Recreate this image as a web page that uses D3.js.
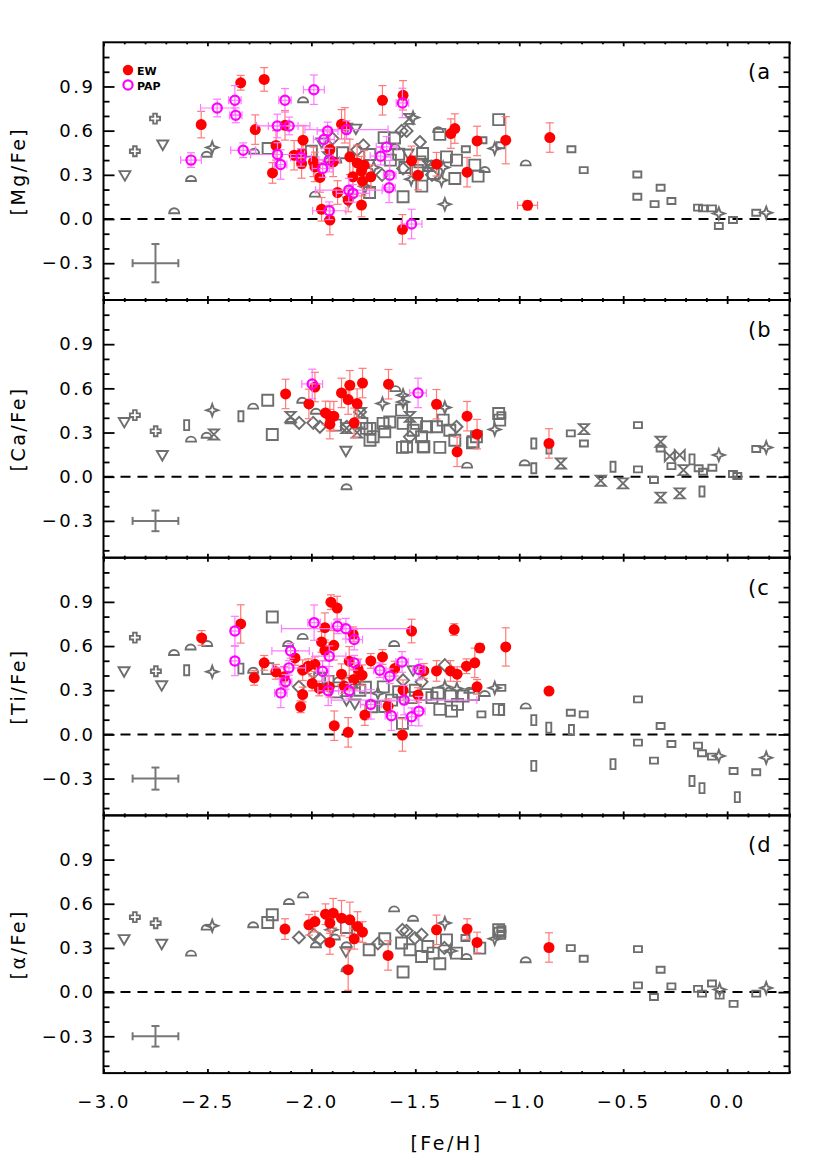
<!DOCTYPE html>
<html><head><meta charset="utf-8">
<script src="https://cdn.jsdelivr.net/npm/d3@7"></script>
<style>
body{margin:0;background:#fff}
svg{display:block}
text{font-family:"DejaVu Sans",sans-serif;fill:#000}
</style></head>
<body><svg id="c" width="830" height="1163"></svg>
<script>
// ---------- DATA ----------
// EW / PAP entries: [Fe/H, [X/Fe], xerr, yerr]; literature entries: [Fe/H, [X/Fe], symbol]
const xTicks = [-3.0, -2.5, -2.0, -1.5, -1.0, -0.5, 0.0];
const yTicks = [-0.3, 0.0, 0.3, 0.6, 0.9];
const panelLabels = ["(a", "(b", "(c", "(d"];
const yTitles = ["[Mg/Fe]", "[Ca/Fe]", "[Ti/Fe]", "[\u03b1/Fe]"];
const sampleErrX = [0.11, 0.11, 0.11, 0.11];
const sampleErrY = [0.13, 0.07, 0.075, 0.07];

const mgEW = [
[-2.34,0.925,0,0.05],[-2.227,0.948,0,0.08],[-2.53,0.641,0,0.09],[-2.27,0.607,0,0.1],
[-1.658,0.806,0,0.1],[-2.17,0.50,0,0.1],[-2.127,0.636,0,0.1],[-2.187,0.313,0,0.07],
[-2.083,0.433,0,0.1],[-2.047,0.445,0,0.1],[-2.04,0.535,0,0.1],[-2.047,0.377,0,0.1],
[-1.99,0.388,0,0.1],[-1.983,0.354,0,0.1],[-1.959,0.282,0,0.1],[-1.911,0.472,0,0.12],
[-1.855,0.643,0,0.1],[-1.839,0.636,0,0.12],[-1.815,0.422,0,0.12],[-1.895,0.388,0,0.1],
[-1.874,0.18,0,0.08],[-1.951,0.066,0,0.08],[-1.911,-0.007,0,0.1],[-1.78,0.381,0,0.12],
[-1.746,0.366,0,0.1],[-1.80,0.287,0,0.12],[-1.759,0.325,0,0.1],[-1.754,0.257,0,0.1],
[-1.714,0.287,0,0.08],[-1.759,0.095,0,0.08],[-1.823,0.129,0,0.08],[-1.559,0.84,0,0.1],
[-1.518,0.395,0,0.1],[-1.487,0.298,0,0.1],[-1.562,-0.07,0,0.1],[-1.398,0.372,0,0.08],
[-1.329,0.58,0,0.1],[-1.31,0.614,0,0.1],[-1.251,0.318,0,0.1],[-1.203,0.53,0,0.1],
[-1.065,0.535,0,0.16],[-0.853,0.553,0,0.1],[-0.96,0.093,0.048,0.03]
];
const mgPAP = [
[-2.579,0.40,0.05,0.05],[-2.453,0.754,0.08,0.06],[-2.368,0.806,0.03,0.1],[-2.364,0.704,0.03,0.05],
[-2.328,0.467,0.06,0.05],[-2.127,0.806,0.03,0.08],[-2.164,0.632,0.1,0.08],[-2.107,0.632,0.1,0.06],
[-1.988,0.878,0.05,0.1],[-2.163,0.438,0.13,0.08],[-2.148,0.37,0.03,0.1],[-2.05,0.418,0.05,0.06],
[-1.922,0.598,0.05,0.06],[-1.94,0.54,0.05,0.06],[-1.914,0.40,0.05,0.08],[-1.946,0.343,0.05,0.06],
[-1.831,0.607,0.2,0.06],[-1.82,0.196,0.16,0.08],[-1.80,0.174,0.08,0.06],[-1.914,0.056,0.08,0.06],
[-1.667,0.427,0.05,0.06],[-1.638,0.49,0.05,0.07],[-1.623,0.298,0.03,0.1],[-1.626,0.212,0.03,0.1],
[-1.562,0.788,0.03,0.1],[-1.518,-0.034,0.05,0.1]
];
const mgLit = [
[-2.849,0.46,"plus"],[-2.752,0.682,"plus"],[-2.897,0.298,"tri"],[-2.715,0.506,"tri"],
[-2.66,0.056,"half"],[-2.579,0.275,"half"],[-2.504,0.44,"half"],[-2.477,0.485,"star"],
[-2.275,0.46,"half"],[-2.208,0.479,"sq"],[-2.04,0.81,"half"],[-1.983,0.169,"half"],
[-1.898,0.546,"dia"],[-1.786,0.614,"tri"],[-1.83,0.62,"tri"],[-1.65,0.553,"sq"],
[-1.719,0.438,"sq"],[-1.75,0.5,"dia"],[-1.78,0.47,"dia"],[-1.85,0.45,"sq"],
[-1.88,0.40,"half"],[-1.70,0.35,"star"],[-1.74,0.22,"star"],[-1.82,0.12,"tri"],
[-1.60,0.55,"sq"],[-1.511,0.689,"star"],[-1.53,0.68,"hg"],[-1.566,0.598,"dia"],
[-1.542,0.598,"dia"],[-1.465,0.445,"sq"],[-1.478,0.388,"sq"],[-1.478,0.523,"dia"],
[-1.469,0.223,"sq"],[-1.559,0.151,"sq"],[-1.358,0.10,"star"],[-1.39,0.607,"half"],
[-1.382,0.575,"sq"],[-1.414,0.309,"sq"],[-1.302,0.40,"sq"],[-1.31,0.275,"sq"],
[-1.214,0.366,"sq"],[-1.198,0.291,"sq"],[-1.166,0.336,"half"],[-1.374,0.264,"star"],
[-1.366,0.35,"star"],[-1.257,0.474,"rs"],[-1.177,0.535,"rs"],[-1.118,0.479,"star"],
[-1.09,0.501,"rs"],[-1.099,0.675,"sq"],[-0.969,0.381,"half"],[-0.749,0.474,"rs"],
[-0.69,0.332,"rs"],[-0.432,0.302,"rs"],[-0.432,0.151,"rs"],[-0.32,0.212,"rs"],
[-0.349,0.101,"rs"],[-0.268,0.122,"rs"],[-0.14,0.077,"rs"],[-0.116,0.072,"rs"],
[-0.073,0.072,"rs"],[-0.04,0.038,"star"],[-0.04,-0.047,"rs"],[0.028,-0.007,"rs"],
[0.14,0.043,"rs"],[0.188,0.043,"star"],
[-1.598,0.49,"half"],[-1.559,0.343,"dia"],[-1.535,0.445,"tri"],[-1.422,0.381,"half"],
[-1.35,0.422,"sq"],[-1.62,0.40,"sq"],[-1.58,0.44,"sq"],[-1.55,0.35,"sq"],
[-1.49,0.33,"sq"],[-1.44,0.36,"hg"],[-1.42,0.30,"dia"],[-1.52,0.27,"star"],
[-1.66,0.30,"dia"],[-1.72,0.18,"sq"],[-1.92,0.42,"hg"],[-2.0,0.46,"sq"],[-1.95,0.52,"tri"]
];

const caEW = [
[-2.124,0.562,0,0.1],[-2.012,0.494,0,0.1],[-1.983,0.609,0,0.1],[-1.932,0.433,0,0.08],
[-1.911,0.411,0,0.1],[-1.892,0.411,0,0.1],[-1.911,0.357,0,0.1],[-1.855,0.569,0,0.1],
[-1.815,0.621,0,0.1],[-1.823,0.524,0,0.1],[-1.78,0.497,0,0.1],[-1.794,0.366,0,0.1],
[-1.754,0.636,0,0.1],[-1.629,0.628,0,0.1],[-1.398,0.492,0,0.1],[-1.251,0.411,0,0.1],
[-1.203,0.289,0,0.1],[-1.299,0.169,0,0.1],[-0.857,0.226,0,0.1]
];
const caPAP = [
[-1.996,0.63,0.05,0.1],[-1.487,0.569,0.04,0.1]
];
const caLit = [
[-2.90,0.372,"tri"],[-2.849,0.418,"plus"],[-2.749,0.309,"plus"],[-2.717,0.147,"tri"],
[-2.60,0.35,"tr"],[-2.579,0.255,"half"],[-2.469,0.287,"hg"],[-2.504,0.282,"half"],
[-2.477,0.452,"star"],[-2.339,0.411,"tr"],[-2.28,0.479,"half"],[-2.21,0.519,"sq"],
[-2.188,0.287,"sq"],[-2.044,0.519,"half"],[-1.978,0.445,"half"],[-2.10,0.406,"hg"],
[-2.10,0.38,"half"],[-2.059,0.366,"dia"],[-1.991,0.366,"dia"],[-1.959,0.339,"dia"],
[-1.884,0.35,"sq"],[-1.834,0.176,"tri"],[-1.831,-0.068,"half"],[-1.762,0.433,"hg"],
[-1.596,0.598,"half"],[-1.658,0.497,"star"],[-1.559,0.553,"star"],[-1.559,0.508,"star"],
[-1.566,0.452,"sq"],[-1.562,0.199,"sq"],[-1.459,0.203,"sq"],[-1.382,0.199,"sq"],
[-1.358,0.47,"star"],[-1.251,0.079,"half"],[-1.225,0.23,"sq"],[-1.099,0.429,"sq"],
[-1.094,0.384,"sq"],[-1.118,0.321,"star"],
[-1.757,0.362,"sq"],[-1.718,0.328,"sq"],[-1.655,0.362,"sq"],[-1.703,0.271,"sq"],
[-1.623,0.372,"sq"],[-1.647,0.305,"sq"],[-1.559,0.362,"sq"],[-1.526,0.406,"hg"],
[-1.51,0.316,"sq"],[-1.494,0.362,"sq"],[-1.47,0.271,"sq"],[-1.446,0.339,"sq"],
[-1.542,0.203,"sq"],[-1.462,0.203,"sq"],[-1.526,0.271,"dia"],[-1.398,0.339,"sq"],
[-1.366,0.384,"sq"],[-1.334,0.316,"sq"],[-1.31,0.248,"sq"],[-1.302,0.339,"dia"],
[-1.222,0.237,"sq"],[-1.206,0.271,"sq"],[-1.766,0.44,"dia"],[-1.83,0.339,"dia"],
[-1.831,0.33,"hg"],[-1.735,0.328,"sq"],[-1.718,0.248,"sq"],[-1.78,0.30,"hg"],
[-1.086,0.418,"rs"],[-0.93,0.226,"tr"],[-0.974,0.095,"half"],[-0.93,0.057,"tr"],
[-0.857,0.192,"tr"],[-0.80,0.09,"hg"],[-0.752,0.294,"rs"],[-0.689,0.323,"hg"],
[-0.689,0.226,"rs"],[-0.608,-0.027,"hg"],[-0.549,0.068,"tr"],[-0.501,-0.045,"hg"],
[-0.429,0.35,"rs"],[-0.429,0.05,"rs"],[-0.352,-0.022,"rs"],[-0.32,0.237,"hg"],
[-0.32,0.192,"rs"],[-0.276,0.14,"bt"],[-0.228,0.147,"bt"],[-0.32,-0.142,"hg"],
[-0.228,-0.113,"hg"],[-0.268,0.072,"rs"],[-0.21,0.045,"hg"],[-0.169,0.118,"tr"],
[-0.137,0.057,"rs"],[-0.116,0.034,"rs"],[-0.121,-0.10,"tr"],[-0.071,0.061,"rs"],
[-0.04,0.147,"star"],[0.028,0.018,"rs"],[0.049,0.005,"rs"],[0.14,0.188,"rs"],
[0.188,0.199,"star"]
];

const tiEW = [
[-2.528,0.655,0,0.05],[-2.34,0.75,0,0.13],[-2.275,0.384,0,0.05],[-2.227,0.486,0,0.05],
[-2.171,0.425,0,0.05],[-2.131,0.391,0,0.07],[-2.079,0.519,0,0.05],[-2.042,0.436,0,0.07],
[-2.015,0.463,0,0.05],[-1.983,0.477,0,0.05],[-1.996,0.346,0,0.05],[-1.962,0.312,0,0.05],
[-2.042,0.271,0,0.05],[-2.052,0.188,0,0.04],[-1.951,0.628,0,0.07],[-1.935,0.725,0,0.1],
[-1.935,0.571,0,0.07],[-1.906,0.898,0,0.05],[-1.876,0.858,0,0.08],[-1.892,0.605,0,0.1],
[-1.855,0.409,0,0.07],[-1.842,0.328,0,0.05],[-1.914,0.323,0,0.07],[-1.89,0.059,0,0.1],
[-1.823,0.014,0,0.1],[-1.818,0.497,0,0.1],[-1.799,0.68,0,0.05],[-1.796,0.373,0,0.07],
[-1.775,0.441,0,0.07],[-1.756,0.402,0,0.07],[-1.714,0.499,0,0.05],[-1.658,0.526,0,0.05],
[-1.743,0.131,0,0.07],[-1.631,0.192,0,0.05],[-1.599,0.447,0,0.05],[-1.559,0.30,0,0.07],
[-1.562,-0.004,0,0.11],[-1.518,0.702,0,0.08],[-1.487,0.267,0,0.05],[-1.459,0.431,0,0.05],
[-1.398,0.431,0,0.07],[-1.331,0.431,0,0.07],[-1.299,0.409,0,0.05],[-1.313,0.712,0,0.04],
[-1.254,0.463,0,0.05],[-1.214,0.486,0,0.1],[-1.19,0.587,0,0.03],[-1.203,0.323,0,0.05],
[-1.065,0.594,0,0.13],[-0.857,0.294,0,0]
];
const tiPAP = [
[-2.368,0.702,0.02,0.1],[-2.368,0.499,0.02,0.1],[-2.147,0.282,0.03,0.1],[-2.124,0.357,0.03,0.05],
[-2.108,0.452,0.08,0.05],[-2.10,0.567,0.09,0.05],[-1.987,0.759,0.03,0.12],[-1.874,0.734,0.03,0.05],
[-1.834,0.718,0.31,0.07],[-1.794,0.644,0.04,0.07],[-1.914,0.531,0.08,0.07],[-1.946,0.429,0.03,0.07],
[-1.919,0.296,0.05,0.1],[-1.818,0.296,0.08,0.05],[-1.794,0.486,0.03,0.05],[-1.714,0.204,0.05,0.1],
[-1.671,0.436,0.03,0.05],[-1.623,0.395,0.03,0.05],[-1.615,0.127,0.03,0.1],[-1.564,0.492,0.03,0.07],
[-1.554,0.233,0.35,0.1],[-1.518,0.12,0.03,0.06],[-1.483,0.158,0.03,0.1],[-1.483,0.441,0.03,0.07]
];
const tiLit = [
[-2.901,0.429,"tri"],[-2.849,0.657,"plus"],[-2.748,0.429,"plus"],[-2.72,0.334,"tri"],
[-2.661,0.556,"half"],[-2.60,0.436,"tr"],[-2.581,0.594,"half"],[-2.501,0.617,"half"],
[-2.477,0.425,"star"],[-2.339,0.447,"tr"],[-2.28,0.436,"half"],[-2.21,0.447,"sq"],
[-2.188,0.797,"sq"],[-2.112,0.617,"half"],[-2.042,0.666,"half"],[-1.602,0.617,"half"],
[-2.06,0.323,"dia"],[-1.562,0.075,"sq"],[-1.382,0.17,"sq"],[-1.099,0.17,"sq"],
[-1.297,0.204,"sq"],[-1.326,0.158,"sq"],[-1.182,0.136,"rs"],[-1.118,0.316,"star"],
[-1.086,0.316,"rs"],[-1.358,0.47,"dia"],[-1.166,0.278,"half"],
[-1.99,0.42,"dia"],[-1.96,0.38,"sq"],[-1.92,0.36,"sq"],[-1.879,0.289,"sq"],
[-1.831,0.233,"tri"],[-1.791,0.21,"tri"],[-1.767,0.30,"sq"],[-1.74,0.32,"sq"],
[-1.71,0.188,"sq"],[-1.654,0.323,"sq"],[-1.647,0.19,"sq"],[-1.614,0.233,"sq"],
[-1.511,0.436,"tri"],[-1.559,0.368,"dia"],[-1.47,0.357,"dia"],[-1.50,0.30,"sq"],
[-1.45,0.27,"sq"],[-1.42,0.25,"sq"],[-1.39,0.28,"sq"],[-1.358,0.323,"star"],
[-1.33,0.26,"sq"],[-1.27,0.26,"sq"],[-1.22,0.27,"sq"],[-1.24,0.30,"half"],
[-1.30,0.31,"star"],[-1.58,0.29,"sq"],[-1.52,0.25,"sq"],[-1.68,0.28,"star"],
[-1.80,0.35,"hg"],[-1.87,0.37,"half"],[-1.77,0.39,"dia"],
[-1.086,0.165,"tr"],[-0.969,0.194,"half"],[-0.93,0.097,"tr"],[-0.858,0.046,"tr"],
[-0.93,-0.214,"tr"],[-0.752,0.147,"rs"],[-0.69,0.136,"rs"],[-0.749,0.03,"tr"],
[-0.549,-0.202,"tr"],[-0.429,0.238,"rs"],[-0.429,-0.056,"rs"],[-0.32,0.057,"rs"],
[-0.352,-0.178,"rs"],[-0.268,-0.065,"rs"],[-0.14,-0.076,"rs"],[-0.121,-0.128,"rs"],
[-0.073,-0.151,"rs"],[-0.04,-0.146,"star"],[-0.169,-0.316,"tr"],[-0.121,-0.365,"tr"],
[0.031,-0.248,"rs"],[0.049,-0.426,"tr"],[0.14,-0.257,"rs"],[0.188,-0.158,"star"]
];

const alEW = [
[-2.127,0.428,0,0.07],[-2.012,0.457,0,0.07],[-1.983,0.479,0,0.07],[-1.932,0.529,0,0.07],
[-1.895,0.536,0,0.1],[-1.911,0.469,0,0.07],[-1.911,0.337,0,0.08],[-1.855,0.502,0,0.12],
[-1.815,0.491,0,0.12],[-1.778,0.446,0,0.1],[-1.754,0.408,0,0.07],[-1.794,0.362,0,0.07],
[-1.823,0.152,0,0.14],[-1.631,0.249,0,0.1],[-1.398,0.423,0,0.1],[-1.251,0.428,0,0.07],
[-1.203,0.337,0,0.07],[-0.857,0.303,0,0.1]
];
const alPAP = [];
const alLit = [
[-2.901,0.36,"tri"],[-2.849,0.509,"plus"],[-2.749,0.468,"plus"],[-2.72,0.328,"tri"],
[-2.579,0.265,"half"],[-2.477,0.45,"star"],[-2.504,0.441,"half"],[-2.28,0.457,"half"],
[-2.21,0.473,"sq"],[-2.188,0.525,"sq"],[-2.108,0.615,"half"],[-2.04,0.66,"half"],
[-2.06,0.371,"dia"],[-1.988,0.389,"dia"],[-1.959,0.36,"dia"],[-1.978,0.322,"half"],
[-1.903,0.423,"star"],[-1.887,0.374,"half"],[-1.831,0.439,"sq"],[-1.831,0.322,"half"],
[-1.834,0.276,"tri"],[-1.831,0.159,"half"],[-1.722,0.288,"sq"],[-1.647,0.362,"sq"],
[-1.68,0.33,"dia"],[-1.602,0.565,"half"],[-1.559,0.137,"sq"],[-1.562,0.423,"dia"],
[-1.542,0.416,"dia"],[-1.511,0.502,"half"],[-1.358,0.469,"star"],[-1.382,0.193,"sq"],
[-1.47,0.242,"sq"],[-1.302,0.265,"sq"],[-1.254,0.242,"half"],[-1.259,0.367,"rs"],
[-1.19,0.299,"sq"],[-1.118,0.362,"star"],[-1.099,0.423,"sq"],[-1.094,0.40,"sq"],
[-1.526,0.288,"sq"],[-1.502,0.367,"dia"],[-1.47,0.39,"dia"],[-1.414,0.265,"sq"],
[-1.35,0.355,"sq"],[-1.36,0.30,"dia"],[-1.566,0.333,"sq"],[-1.44,0.31,"sq"],[-1.33,0.28,"star"],
[-1.086,0.428,"rs"],[-1.086,0.396,"rs"],[-0.969,0.22,"half"],[-0.752,0.299,"rs"],
[-0.69,0.227,"rs"],[-0.429,0.292,"rs"],[-0.32,0.152,"rs"],[-0.429,0.046,"rs"],
[-0.352,-0.033,"rs"],[-0.268,0.039,"rs"],[-0.14,0.022,"rs"],[-0.121,-0.01,"rs"],
[-0.073,0.058,"rs"],[-0.036,0.017,"star"],[-0.036,-0.024,"rs"],[0.031,-0.08,"rs"],
[0.14,-0.01,"rs"],[0.188,0.028,"star"]
];

const ewSets = [mgEW, caEW, tiEW, alEW];
const papSets = [mgPAP, caPAP, tiPAP, alPAP];
const litSets = [mgLit, caLit, tiLit, alLit];

// ---------- DRAWING ----------
const GRAY = "#6e6e6e", RED = "#ff0000", RED_ERR = "#ff7a7a", MAG = "#ff00ff", MAG_ERR = "#ff7aff";
const SYM = {
  plus: "M-1.8,-5H1.8V-1.8H5V1.8H1.8V5H-1.8V1.8H-5V-1.8H-1.8Z",
  tri: "M-5.5,-4H5.5L0,5.5Z",
  half: "M-5,2.5A5,5 0 0 1 5,2.5Z",
  star: "M0,-6L1.6,-1.6L6,0L1.6,1.6L0,6L-1.6,1.6L-6,0L-1.6,-1.6Z",
  sq: "M-5.5,-5.5H5.5V5.5H-5.5Z",
  rs: "M-4,-3H4V3H-4Z",
  tr: "M-2.5,-5H2.5V5H-2.5Z",
  dia: "M0,-6L6,0L0,6L-6,0Z",
  hg: "M-5,-5H5L-5,5H5Z",
  bt: "M-5,-5L5,5V-5L-5,5Z"
};

const svg = d3.select("#c");
const x = d3.scaleLinear().domain([-3.0, 0.3]).range([103.5, 789.5]);
const TOP0 = 42.3, PH = 257.7;
const xMinor = d3.range(-29, 4).map(v => v / 10).filter(v => Math.abs(v * 2 - Math.round(v * 2)) > 1e-6);
const yMinor = d3.range(-5, 12).map(v => v / 10).filter(v => Math.abs(v * 10 / 3 - Math.round(v * 10 / 3)) > 1e-6);

function errBars(g, data, xs, ys, color, cap) {
  const gg = g.append("g").attr("stroke", color).attr("stroke-width", 1.2).attr("fill", "none");
  data.forEach(d => {
    const cx = xs(d[0]), cy = ys(d[1]);
    if (d[3] > 0) {
      const y1 = ys(d[1] - d[3]), y2 = ys(d[1] + d[3]);
      gg.append("line").attr("x1", cx).attr("x2", cx).attr("y1", y1).attr("y2", y2);
      gg.append("line").attr("x1", cx - cap).attr("x2", cx + cap).attr("y1", y1).attr("y2", y1);
      gg.append("line").attr("x1", cx - cap).attr("x2", cx + cap).attr("y1", y2).attr("y2", y2);
    }
    if (d[2] > 0) {
      const x1 = xs(d[0] - d[2]), x2 = xs(d[0] + d[2]);
      gg.append("line").attr("x1", x1).attr("x2", x2).attr("y1", cy).attr("y2", cy);
      gg.append("line").attr("x1", x1).attr("x2", x1).attr("y1", cy - cap).attr("y2", cy + cap);
      gg.append("line").attr("x1", x2).attr("x2", x2).attr("y1", cy - cap).attr("y2", cy + cap);
    }
  });
}

function styleAxis(sel) {
  sel.select(".domain").remove();
  sel.selectAll(".tick line").attr("stroke", "#000").attr("stroke-width", 1.8);
  sel.selectAll("text").style("font-size", "18px").style("letter-spacing", "2.5px").attr("fill", "#000");
}

for (let i = 0; i < 4; i++) {
  const top = TOP0 + i * PH, bot = top + PH;
  const y = d3.scaleLinear().domain([-0.55, 1.2]).range([bot, top]);
  const g = svg.append("g");

  // zero line
  g.append("line").attr("x1", x(-3.0)).attr("x2", x(0.3)).attr("y1", y(0)).attr("y2", y(0))
    .attr("stroke", "#000").attr("stroke-width", 2.2).attr("stroke-dasharray", "10,7");

  // literature (gray) symbols
  g.append("g").selectAll("path").data(litSets[i]).join("path")
    .attr("d", d => SYM[d[2]])
    .attr("transform", d => `translate(${x(d[0])},${y(d[1])})`)
    .attr("fill", "none").attr("stroke", GRAY).attr("stroke-width", 1.9);

  // typical error bar
  errBars(g.append("g").attr("stroke-width", 2), [[-2.75, -0.3, sampleErrX[i], sampleErrY[i]]], x, y, "#777", 4);
  g.selectAll("g:last-child line").attr("stroke-width", 2);

  // EW
  errBars(g, ewSets[i], x, y, RED_ERR, 4);
  g.append("g").selectAll("circle").data(ewSets[i]).join("circle")
    .attr("cx", d => x(d[0])).attr("cy", d => y(d[1])).attr("r", 5.5).attr("fill", RED);

  // PAP
  errBars(g, papSets[i], x, y, MAG_ERR, 4);
  g.append("g").selectAll("circle").data(papSets[i]).join("circle")
    .attr("cx", d => x(d[0])).attr("cy", d => y(d[1])).attr("r", 4.6)
    .attr("fill", "none").attr("stroke", MAG).attr("stroke-width", 2.2);

  // axes (inward ticks)
  const ax = svg.append("g");
  ax.append("g").attr("transform", `translate(0,${top})`).call(d3.axisTop(x).tickValues(xTicks).tickSize(-4).tickFormat("")).call(styleAxis);
  ax.append("g").attr("transform", `translate(0,${top})`).call(d3.axisTop(x).tickValues(xMinor).tickSize(-2).tickFormat("")).call(styleAxis);
  const bAx = d3.axisBottom(x).tickValues(xTicks).tickSize(-4);
  if (i < 3) bAx.tickFormat("");
  else bAx.tickFormat(d3.format(".1f")).tickPadding(0);
  const bg = ax.append("g").attr("transform", `translate(0,${bot})`).call(bAx).call(styleAxis);
  if (i === 3) bg.selectAll("text").attr("y", 35).attr("dy", "0");
  ax.append("g").attr("transform", `translate(0,${bot})`).call(d3.axisBottom(x).tickValues(xMinor).tickSize(-2).tickFormat("")).call(styleAxis);

  ax.append("g").attr("transform", `translate(${x(-3.0)},0)`)
    .call(d3.axisLeft(y).tickValues(yTicks).tickSize(-11).tickPadding(8).tickFormat(d3.format(".1f"))).call(styleAxis);
  ax.append("g").attr("transform", `translate(${x(-3.0)},0)`)
    .call(d3.axisLeft(y).tickValues(yMinor).tickSize(-6).tickFormat("")).call(styleAxis);
  ax.append("g").attr("transform", `translate(${x(0.3)},0)`)
    .call(d3.axisRight(y).tickValues(yTicks).tickSize(-11).tickFormat("")).call(styleAxis);
  ax.append("g").attr("transform", `translate(${x(0.3)},0)`)
    .call(d3.axisRight(y).tickValues(yMinor).tickSize(-6).tickFormat("")).call(styleAxis);

  // frame
  ax.append("rect").attr("x", x(-3.0)).attr("y", top).attr("width", x(0.3) - x(-3.0)).attr("height", PH)
    .attr("fill", "none").attr("stroke", "#000").attr("stroke-width", 2);

  // panel label
  svg.append("text").attr("x", 748).attr("y", top + 37).style("font-size", "21px").style("letter-spacing", "1px")
    .text(panelLabels[i]);

  // y title
  svg.append("text").attr("transform", `translate(25,${(top + bot) / 2}) rotate(-90)`)
    .attr("text-anchor", "middle").style("font-size", "19px").style("letter-spacing", "2.5px")
    .text(yTitles[i]);
}

// x title
svg.append("text").attr("x", (x(-3.0) + x(0.3)) / 2).attr("y", 1150).attr("text-anchor", "middle")
  .style("font-size", "19px").style("letter-spacing", "2.5px").text("[Fe/H]");

// legend (panel a)
const lg = svg.append("g");
lg.append("circle").attr("cx", 128).attr("cy", 70).attr("r", 5.2).attr("fill", RED);
lg.append("text").attr("x", 137).attr("y", 74.5).style("font-size", "11px").style("font-weight", "bold").text("EW");
lg.append("circle").attr("cx", 128).attr("cy", 85).attr("r", 4.6).attr("fill", "none").attr("stroke", MAG).attr("stroke-width", 2.2);
lg.append("text").attr("x", 137).attr("y", 89.5).style("font-size", "11px").style("font-weight", "bold").text("PAP");
</script>
</body></html>
